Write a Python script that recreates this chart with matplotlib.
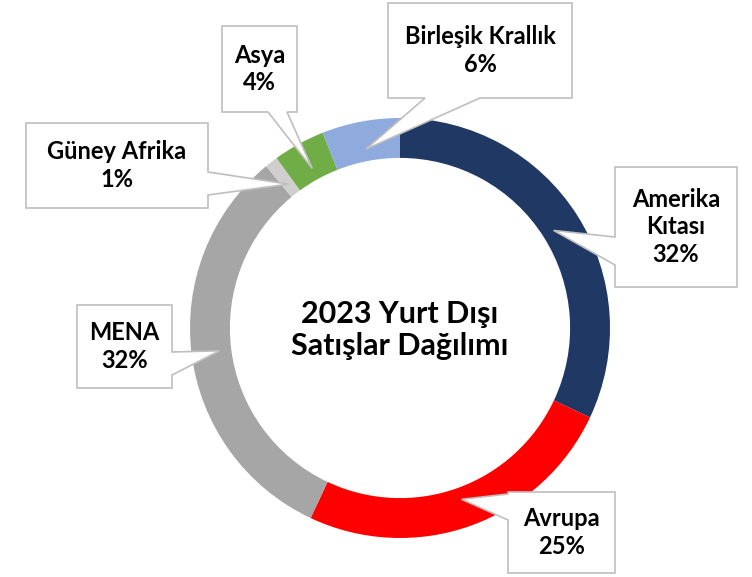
import numpy as np
import matplotlib
matplotlib.use("Agg")
import matplotlib.pyplot as plt
from matplotlib.patches import Polygon

plt.rcParams['font.family'] = ['Lato', 'DejaVu Sans']

regions = ['Amerika\nKıtası', 'Avrupa', 'MENA', 'Güney Afrika', 'Asya', 'Birleşik Krallık']
shares = [32, 25, 32, 1, 4, 6]
colors = ['#203864', '#FF0000', '#A6A6A6', '#D0CECE', '#70AD47', '#8FAADC']
title_text = '2023 Yurt Dışı\nSatışlar Dağılımı'

# callout boxes in image pixels (x0, y0, x1, y1), pointer side and base span
boxes = [
    ((615, 167, 737, 287), 'left', (237, 265)),
    ((508, 492, 615, 573), 'left', (494, 520)),
    ((77, 305, 172, 388), 'right', (352, 375)),
    ((26, 123, 208, 208), 'right', (172, 195)),
    ((222, 26, 297, 112), 'bottom', (268, 287)),
    ((388, 3, 572, 98), 'bottom', (425, 480)),
]

W, H = 752, 577
fig = plt.figure(figsize=(W / 100, H / 100), dpi=100)
ax = fig.add_axes([0, 0, 1, 1])

cx, cy, R = 400, H - 328, 210
wedges, _ = ax.pie(shares, colors=colors, startangle=90, counterclock=False,
                   radius=R, center=(cx, cy), frame=True,
                   wedgeprops=dict(width=R * 0.19, linewidth=0))
ax.set_xlim(0, W)
ax.set_ylim(0, H)
ax.set_aspect('equal')
ax.axis('off')

ax.text(cx, cy - 2, title_text, ha='center', va='center', fontsize=22,
        fontweight='bold', linespacing=1.2)

for w, lab, val, (box, side, span) in zip(wedges, regions, shares, boxes):
    mid = np.deg2rad((w.theta1 + w.theta2) / 2)
    tip = (cx + 0.867 * R * np.cos(mid), cy + 0.867 * R * np.sin(mid))
    x0, y0, x1, y1 = box
    # convert to data coords (y up)
    Y0, Y1 = H - y0, H - y1
    tl, tr, br, bl = (x0, Y0), (x1, Y0), (x1, Y1), (x0, Y1)
    a, b = span
    if side == 'left':
        pts = [tl, tr, br, bl, (x0, H - b), tip, (x0, H - a)]
    elif side == 'right':
        pts = [tl, tr, (x1, H - a), tip, (x1, H - b), br, bl]
    else:
        pts = [tl, tr, br, (b, Y1), tip, (a, Y1), bl]
    ax.add_patch(Polygon(pts, closed=True, facecolor='white',
                         edgecolor='#BFBFBF', linewidth=1.2, zorder=3))
    ax.text((x0 + x1) / 2, (Y0 + Y1) / 2, f'{lab}\n{val}%', ha='center',
            va='center', fontsize=17, fontweight='bold', linespacing=1.25,
            zorder=4)

fig.savefig('out.png', dpi=100)
